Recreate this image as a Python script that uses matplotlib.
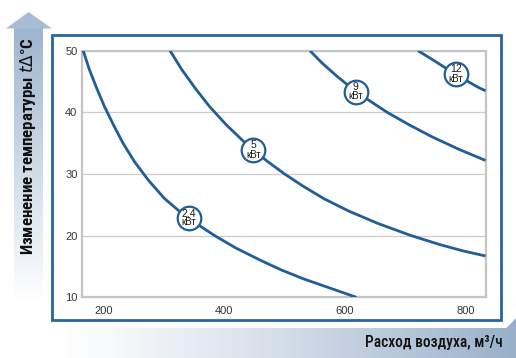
import numpy as np
import matplotlib
matplotlib.use('Agg')
import matplotlib.pyplot as plt
from matplotlib.patches import Rectangle, Polygon

# curves: air flow (m3/h) vs temperature rise (°C)
flow_24 = [166, 176, 188, 201, 216, 232, 251, 274, 301, 325, 353, 384, 419, 460, 493, 531, 575, 619]
dt_24 = [50, 47, 44, 41, 38, 35, 32, 29, 26, 24, 22, 20, 18, 16, 14.5, 13, 11.5, 10]
flow_5 = [310, 329, 351, 375, 403, 435, 472, 500, 531, 565, 606, 654, 710, 759, 797, 833]
dt_5 = [50, 47, 44, 41, 38, 35, 32, 30, 28, 26, 24, 22, 20, 18.5, 17.5, 16.7]
flow_9 = [542, 562, 585, 610, 639, 670, 706, 745, 789, 833]
dt_9 = [50, 48, 46, 44, 42, 40, 38, 36, 34, 32.2]
flow_12 = [721, 746, 770, 795, 822, 833]
dt_12 = [50, 48.5, 47, 45.5, 44, 43.5]

power_labels = ['2,4', '5', '9', '12']
label_flow = [341.7, 448, 618, 784]
label_dt = [22.9, 33.9, 43.35, 46.2]

x_ticks = [200, 400, 600, 800]
y_ticks = [10, 20, 30, 40, 50]

BLUE = '#215e97'
NARROW = ['Roboto Condensed', 'Liberation Sans Narrow', 'Roboto', 'DejaVu Sans']

fig = plt.figure(figsize=(5.16, 3.58), dpi=100)

# background layer in pixel coordinates
bg = fig.add_axes([0, 0, 1, 1], zorder=0)
bg.set_xlim(0, 516)
bg.set_ylim(358, 0)
bg.axis('off')

# vertical arrow with gradient shaft
top_c = np.array([0.62, 0.71, 0.81])
grad_v = np.linspace(0, 1, 256)[:, None, None]
img_v = top_c * (1 - grad_v) + np.array([1, 1, 1]) * grad_v
bg.imshow(img_v, extent=(14, 43, 302, 28), aspect='auto', zorder=1)
bg.add_patch(Polygon([(6, 28.5), (28.5, 12), (52, 28.5)], closed=True,
                     facecolor='#a7bdd4', edgecolor='none', zorder=1))

# bottom gradient bar
grad_h = np.linspace(0, 1, 256)[None, :, None] ** 1.2
right_c = np.array([0.60, 0.69, 0.79])
img_h = np.array([1, 1, 1]) * (1 - grad_h) + right_c * grad_h
bg.imshow(img_h, extent=(55, 516, 358, 328), aspect='auto', zorder=1)
bg.add_patch(Polygon([(506, 328.5), (516, 318), (516, 328.5)], closed=True,
                     facecolor='#9bb0c8', edgecolor='none', zorder=1))

# outer blue frame
bg.add_patch(Rectangle((52, 35), 449, 285, fill=False, edgecolor='#2a649c',
                       linewidth=2.0, zorder=2))

bg.text(28.5, 146, 'Изменение температуры $t\\Delta$°C', rotation=90,
        ha='center', va='center', fontsize=12.2, fontweight='bold',
        family=NARROW, color='#111111', zorder=3)
bg.text(503, 342, 'Расход воздуха, м³/ч', ha='right', va='center',
        fontsize=11.2, fontweight='medium', family=NARROW, color='#111111', zorder=3)

# main plot
ax = fig.add_axes([82.3 / 516, 1 - 297.3 / 358, (485.5 - 82.3) / 516,
                   (297.3 - 50.7) / 358], zorder=2)
ax.set_xlim(164.5, 833)
ax.set_ylim(10, 50)
ax.set_xticks(x_ticks)
ax.set_yticks(y_ticks)
ax.tick_params(length=0, labelsize=8, labelcolor='#333333')
ax.tick_params(axis='y', pad=3.5)
ax.tick_params(axis='x', pad=6)
for lbl in ax.get_xticklabels() + ax.get_yticklabels():
    lbl.set_family('Liberation Sans')
ax.grid(axis='y', color='#cccccc', linewidth=0.9)
for s in ax.spines.values():
    s.set_color('#c4c4c4')
    s.set_linewidth(1.6)

for fx, dy in [(flow_24, dt_24), (flow_5, dt_5), (flow_9, dt_9), (flow_12, dt_12)]:
    ax.plot(fx, dy, color=BLUE, linewidth=2.0, solid_capstyle='butt',
            solid_joinstyle='round', zorder=3)

for lab, fx, dy in zip(power_labels, label_flow, label_dt):
    ax.plot(fx, dy, 'o', ms=17, mfc='white', mec=BLUE, mew=1.6, zorder=4)
    ax.annotate(lab, (fx, dy), xytext=(0, 3.4), textcoords='offset points',
                ha='center', va='center', fontsize=7.5, color='#1a1a1a',
                family='Liberation Sans', zorder=5)
    ax.annotate('кВт', (fx, dy), xytext=(0, -3.4), textcoords='offset points',
                ha='center', va='center', fontsize=7, color='#1a1a1a',
                family='Liberation Sans', zorder=5)

plt.savefig('out.png', dpi=100)
